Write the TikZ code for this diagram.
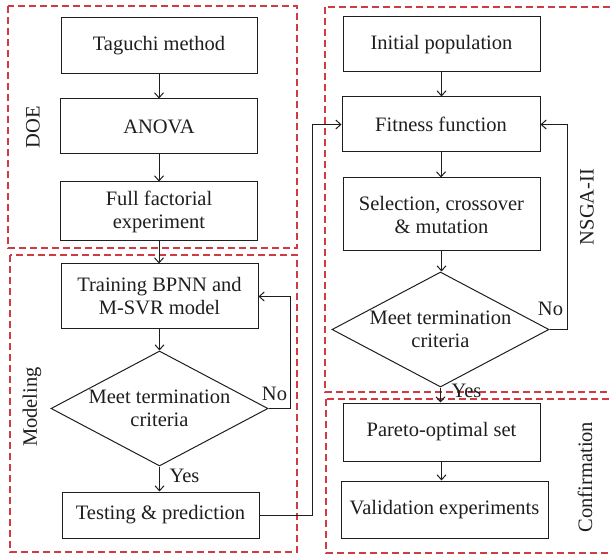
\documentclass[tikz,border=0pt]{standalone}
\usepackage{fontspec}
\setmainfont{Liberation Serif}
\usetikzlibrary{arrows.meta,shapes.geometric}
\definecolor{dashred}{RGB}{208,58,66}
\definecolor{ink}{RGB}{30,30,30}
\begin{document}
\begin{tikzpicture}[x=1pt,y=-1pt,
  font=\fontsize{20.5}{23}\selectfont,
  procbox/.style={draw=ink,line width=1pt,rectangle,inner sep=0pt,align=center,text=ink},
  decbox/.style={draw=ink,line width=1pt,diamond,inner sep=0pt,align=center,text=ink,aspect=1.9},
  grpbox/.style={draw=dashred,line width=1.1pt,dash pattern=on 7pt off 4pt},
  grplabel/.style={rotate=90,text=ink},
  arr/.style={draw=ink,line width=1pt,-{Straight Barb[length=5pt,width=9pt]}},
  lbl/.style={text=ink,inner sep=0pt}]
\useasboundingbox (0,0) rectangle (611,556);
% group frames
\draw[grpbox] (8,6) rectangle (297,248);
\draw[grpbox] (10,255) rectangle (297,552);
\draw[grpbox] (325,7) rectangle (616,392);
\draw[grpbox] (326,399) rectangle (616,553);
\node[grplabel] (doe) at (33,127) {DOE};
\node[grplabel] (mod) at (32,407) {Modeling};
\node[grplabel] (nsga) at (587,207) {NSGA-II};
\node[grplabel] (conf) at (585,477) {Confirmation};
% left column
\node[procbox,minimum width=196,minimum height=56] (tag) at (159,46) {Taguchi method};
\node[procbox,minimum width=197,minimum height=55] (anova) at (159,126.5) {ANOVA};
\node[procbox,minimum width=197,minimum height=59] (full) at (159,211.5) {Full factorial\\experiment};
\node[procbox,minimum width=197,minimum height=65] (train) at (159.5,296.5) {Training BPNN and\\M-SVR model};
\node[decbox,minimum width=217,minimum height=115] (dia1) at (159.5,408.5) {Meet termination\\criteria};
\node[procbox,minimum width=197,minimum height=46] (test) at (160.5,515) {Testing \& prediction};
% right column
\node[procbox,minimum width=197,minimum height=55] (init) at (441.5,44.5) {Initial population};
\node[procbox,minimum width=198,minimum height=55] (fit) at (441,124.5) {Fitness function};
\node[procbox,minimum width=197,minimum height=73] (sel) at (441.5,214.5) {Selection, crossover\\\& mutation};
\node[decbox,minimum width=217,minimum height=115] (dia2) at (440.5,329.5) {Meet termination\\criteria};
\node[procbox,minimum width=197,minimum height=58] (par) at (441.5,432) {Pareto-optimal set};
\node[procbox,minimum width=207,minimum height=57] (val) at (444.5,509.5) {Validation experiments};
% connectors
\draw[arr] (tag.south) -- (tag.south |- anova.north);
\draw[arr] (anova.south) -- (anova.south |- full.north);
\draw[arr] (full.south) -- (full.south |- train.north);
\draw[arr] (train.south) -- (train.south |- dia1.north);
\draw[arr] (dia1.south) -- (dia1.south |- test.north);
\draw[arr] (dia1.east) -- ++(22,0) |- (train.east);
\draw[arr] (test.east) -- ++(53,0) |- (fit.west);
\draw[arr] (init.south) -- (init.south |- fit.north);
\draw[arr] (fit.south) -- (fit.south |- sel.north);
\draw[arr] (sel.south) -- (sel.south |- dia2.north);
\draw[arr] (dia2.east) -- ++(18,0) |- (fit.east);
\draw[arr] (dia2.south) -- (dia2.south |- par.north);
\draw[arr] (par.south) -- (par.south |- val.north);
% branch labels
\node[lbl] (no1) at ([shift={(6,-15)}]dia1.east) {No};
\node[lbl] (yes1) at ([shift={(25,9)}]dia1.south) {Yes};
\node[lbl] (no2) at ([shift={(1,-21)}]dia2.east) {No};
\node[lbl] (yes2) at ([shift={(26,3)}]dia2.south) {Yes};
\end{tikzpicture}
\end{document}
